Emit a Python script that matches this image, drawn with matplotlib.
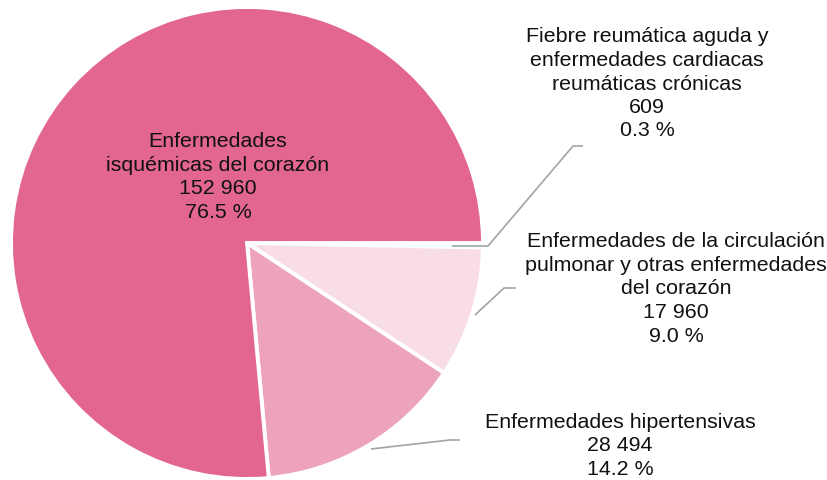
import matplotlib
matplotlib.use("Agg")
import matplotlib.pyplot as plt

categories = [
    "Fiebre reumática aguda y\nenfermedades cardiacas\nreumáticas crónicas",
    "Enfermedades de la circulación\npulmonar y otras enfermedades\ndel corazón",
    "Enfermedades hipertensivas",
    "Enfermedades\nisquémicas del corazón",
]
values = [609, 17960, 28494, 152960]
colors = ["#F3C9D6", "#F8DDE6", "#EDA4BB", "#E2668F"]

W, H = 828, 481
fig = plt.figure(figsize=(W / 100, H / 100), dpi=100)
ax = fig.add_axes([0, 0, 1, 1])
ax.set_xlim(0, W)
ax.set_ylim(0, H)
ax.set_aspect("equal")
ax.axis("off")

cx, cy, r = 247, H - 244, 236
ax.pie(values, colors=colors, startangle=0, counterclock=False,
       center=(cx, cy), radius=r,
       wedgeprops=dict(edgecolor="white", linewidth=2.8))
ax.set_xlim(0, W)
ax.set_ylim(0, H)

total = sum(values)

def fmt(v):
    return f"{v:,}".replace(",", " ")

# label positions (pixels, top-origin) and leader lines
label_pos = [(647, 84), (676, 289), (620, 446), (218, 177)]
leaders = [
    [(452, 247), (488, 247), (573, 147), (583, 147)],
    [(475, 316), (504, 289), (516, 289)],
    [(371, 450), (450, 441), (460, 441)],
    None,
]

for cat, v, (lx, ly), ld in zip(categories, values, label_pos, leaders):
    txt = f"{cat}\n{fmt(v)}\n{v / total * 100:.1f} %"
    ax.text(lx, H - ly, txt, ha="center", va="center", fontsize=15.4,
            family="Liberation Sans", color="#111111", linespacing=1.3)
    if ld:
        xs = [p[0] for p in ld]
        ys = [H - p[1] for p in ld]
        ax.plot(xs, ys, color="#A3A3A3", linewidth=1.2, solid_capstyle="butt")

fig.savefig("out.png", dpi=100)
